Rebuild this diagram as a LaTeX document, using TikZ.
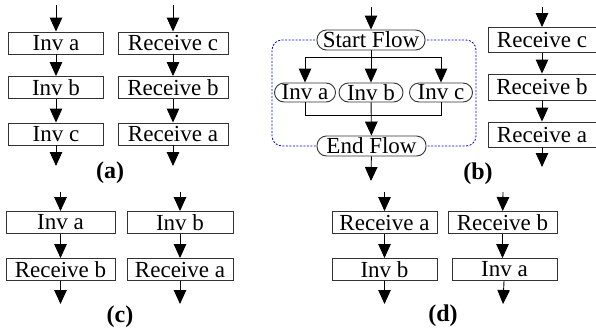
\documentclass[tikz,border=0pt]{standalone}
\usepackage{fontspec}
\setmainfont{Liberation Serif}
\usetikzlibrary{arrows.meta,backgrounds}
\tikzset{
  box/.style={draw=black!80, line width=0.9pt, fill=white, inner sep=0pt, minimum height=22pt, font=\fontsize{23}{26}\selectfont},
  rbox/.style={box, rounded corners=9.5pt, minimum height=20pt},
  arr/.style={line width=0.9pt, -{Triangle[length=14pt,width=12.5pt]}},
  ln/.style={line width=0.9pt},
  lbl/.style={inner sep=0pt, font=\fontsize{24}{26}\selectfont\bfseries},
  dashrect/.style={blue, line width=0.8pt, dash pattern=on 2pt off 1.5pt, rounded corners=10pt}
}
\begin{document}
\begin{tikzpicture}[x=1pt,y=-1pt]
\useasboundingbox (0,0) rectangle (596,327);
% ---------- (a)
\node[box, minimum width=95pt] (a1) at (56,43) {Inv a};
\node[box, minimum width=95pt] (a2) at (56,87.5) {Inv b};
\node[box, minimum width=95pt] (a3) at (56,134) {Inv c};
\coordinate (a0) at (56,5);
\coordinate (a4) at (56,166);
\draw[arr] (a0) -- (a1);
\draw[arr] (a1) -- (a2);
\draw[arr] (a2) -- (a3);
\draw[arr] (a3) -- (a4);
\node[box, minimum width=110pt] (r1) at (173,43) {Receive c};
\node[box, minimum width=110pt] (r2) at (173,87.5) {Receive b};
\node[box, minimum width=110pt] (r3) at (173,134) {Receive a};
\coordinate (r0) at (173,5);
\coordinate (r4) at (173,166);
\draw[arr] (r0) -- (r1);
\draw[arr] (r1) -- (r2);
\draw[arr] (r2) -- (r3);
\draw[arr] (r3) -- (r4);
\node[lbl] (la) at (110,173) {(a)};
% ---------- (b)
\node[rbox, minimum width=108pt] (sf) at (371,40) {Start Flow};
\node[rbox, minimum width=61pt, minimum height=19pt] (ia) at (305,92.5) {Inv a};
\node[rbox, minimum width=64pt, minimum height=19pt] (ib) at (371,92.5) {Inv b};
\node[rbox, minimum width=63pt, minimum height=19pt] (ic) at (441,92.5) {Inv c};
\node[rbox, minimum width=109pt] (ef) at (371.5,146) {End Flow};
\coordinate (b0) at (371,7);
\coordinate (br) at (371,57);
\coordinate (jn) at (371,115);
\coordinate (b4) at (371,181);
\coordinate (dl) at (272,93);
\coordinate (dr) at (476,93);
\begin{scope}[on background layer]
\draw[dashrect] (sf.center) -| (dl) |- (ef.center);
\draw[dashrect] (sf.center) -| (dr) |- (ef.center);
\end{scope}
\draw[arr] (b0) -- (sf);
\draw[arr] (sf) -- (ib);
\draw[arr] (br) -| (ia);
\draw[arr] (br) -| (ic);
\draw[ln] (ia) |- (jn);
\draw[ln] (ic) |- (jn);
\draw[arr] (ib) -- (ef);
\draw[arr] (ef) -- (b4);
\node[box, minimum width=108pt, minimum height=25pt] (s1) at (542,40) {Receive c};
\node[box, minimum width=108pt, minimum height=26pt] (s2) at (542,87) {Receive b};
\node[box, minimum width=108pt, minimum height=25pt] (s3) at (542,134.5) {Receive a};
\coordinate (s0) at (542,7);
\coordinate (s4) at (542,167);
\draw[arr] (s0) -- (s1);
\draw[arr] (s1) -- (s2);
\draw[arr] (s2) -- (s3);
\draw[arr] (s3) -- (s4);
\node[lbl] (lb) at (478,174) {(b)};
% ---------- (c)
\node[box, minimum width=109pt] (c1) at (60.5,222.5) {Inv a};
\node[box, minimum width=109pt] (c2) at (60.5,269.5) {Receive b};
\coordinate (c0) at (60.5,192);
\coordinate (c3) at (60.5,304);
\draw[arr] (c0) -- (c1);
\draw[arr] (c1) -- (c2);
\draw[arr] (c2) -- (c3);
\node[box, minimum width=106pt] (e1) at (180,222.5) {Inv b};
\node[box, minimum width=106pt] (e2) at (180,269.5) {Receive a};
\coordinate (e0) at (180,192);
\coordinate (e3) at (180,304);
\draw[arr] (e0) -- (e1);
\draw[arr] (e1) -- (e2);
\draw[arr] (e2) -- (e3);
\node[lbl] (lc) at (120,317) {(c)};
% ---------- (d)
\node[box, minimum width=105pt] (d1) at (384.5,222.5) {Receive a};
\node[box, minimum width=105pt] (d2) at (384.5,269.5) {Inv b};
\coordinate (d0) at (384.5,192);
\coordinate (d3) at (384.5,304);
\draw[arr] (d0) -- (d1);
\draw[arr] (d1) -- (d2);
\draw[arr] (d2) -- (d3);
\node[box, minimum width=109pt] (f1) at (502.5,222.5) {Receive b};
\node[box, minimum width=105pt] (f2) at (504.5,269.5) {Inv a};
\coordinate (f0) at (503,192);
\coordinate (f3) at (503,304);
\draw[arr] (f0) -- (f1);
\draw[arr] (f1) -- (f2.north -| f1);
\draw[arr] (f2) -- (f3);
\node[lbl] (ld) at (443,316) {(d)};
\end{tikzpicture}
\end{document}
